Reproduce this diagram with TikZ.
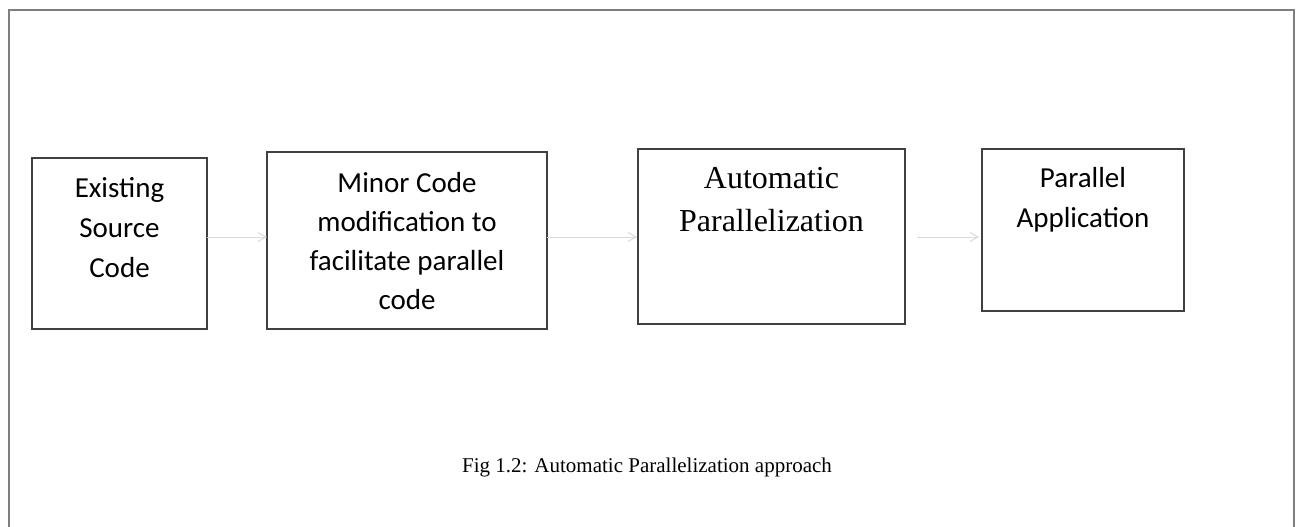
\documentclass[tikz,border=0pt]{standalone}
\usepackage{fontspec}
\setmainfont{Liberation Serif}
\newfontfamily\calibrifont{Carlito}
\usetikzlibrary{arrows.meta}
\definecolor{boxline}{HTML}{404040}
\definecolor{frameline}{HTML}{7F7F7F}
\definecolor{flowline}{HTML}{DADADA}
\begin{document}
\begin{tikzpicture}[x=1pt,y=-1pt,
  stage/.style={draw=boxline, line width=1.3pt, inner sep=0pt, outer sep=0pt},
  caltext/.style={font=\calibrifont\fontsize{29}{40}\selectfont, align=center, anchor=base, inner sep=0pt},
  serif/.style={font=\fontsize{32}{43}\selectfont, align=center, anchor=base, inner sep=0pt},
  flow/.style={draw=flowline, line width=1pt, -{Straight Barb[length=8pt,width=9pt]}}]
\useasboundingbox (0,0) rectangle (1298,527);
% page frame, open at the bottom
\draw[frameline, line width=2pt] (9,527) -- (9,10) -- (1294,10) -- (1294,527);
% process stages
\node[stage, minimum width=175pt, minimum height=171pt] (b1) at (119.5,243.5) {};
\node[stage, minimum width=280pt, minimum height=177pt] (b2) at (407,240.5) {};
\node[stage, minimum width=267pt, minimum height=175pt] (b3) at (771.5,236.5) {};
\node[stage, minimum width=202pt, minimum height=162pt] (b4) at (1083,230) {};
% stage labels (anchored at the baseline of their last line)
\node[caltext] (t1) at (119.5,277) {Existing\\Source\\Code};
\node[caltext, font=\calibrifont\fontsize{29}{39}\selectfont] (t2) at (407,309) {Minor Code\\modification to\\facilitate parallel\\code};
\node[serif] (t3) at (771.5,231) {Automatic\\Parallelization};
\node[caltext] (t4) at (1083,227) {Parallel\\Application};
% connectors
\coordinate (lvl) at (0,237);
\draw[flow] (b1.east |- lvl) -- (b2.west |- lvl);
\draw[flow, shorten >=1pt] (b2.east |- lvl) -- (b3.west |- lvl);
\draw[flow, shorten <=12pt, shorten >=3pt] (b3.east |- lvl) -- (b4.west |- lvl);
% caption
\node[font=\fontsize{21}{24}\selectfont, anchor=base, inner sep=0pt] (cap) at (647,472) {Fig 1.2: Automatic Parallelization approach};
\end{tikzpicture}
\end{document}
